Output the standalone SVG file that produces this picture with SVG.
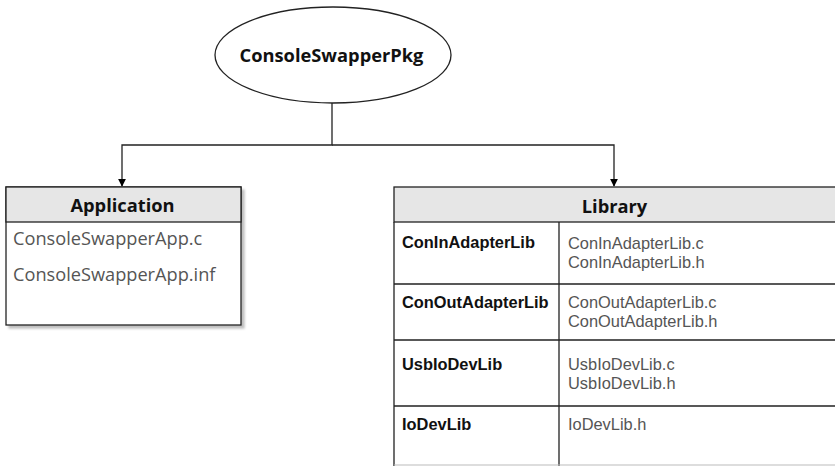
<svg xmlns="http://www.w3.org/2000/svg" width="835" height="466" viewBox="0 0 835 466">
<defs>
<marker id="arr" viewBox="0 0 10 10" refX="9" refY="5" markerWidth="8" markerHeight="8" markerUnits="userSpaceOnUse" orient="auto">
<path d="M0,0 L10,5 L0,10 Z" fill="#000"/>
</marker>
<filter id="sh" x="-5%" y="-5%" width="115%" height="120%">
<feDropShadow dx="3" dy="3" stdDeviation="1" flood-color="#000" flood-opacity="0.25"/>
</filter>
</defs>
<style>
.bold{font-family:"Open Sans","Noto Sans",sans-serif;font-weight:bold;fill:#111;font-size:18.3px}
.cell{font-family:"Open Sans","Noto Sans",sans-serif;font-size:18.2px;fill:#555}
.lb{font-family:"Liberation Sans",Arial,sans-serif;font-weight:bold;font-size:16.4px;fill:#111}
.lf{font-family:"Liberation Sans",Arial,sans-serif;font-size:16.4px;fill:#555}
.ln{stroke:#222;stroke-width:1.3;fill:none}
</style>
<rect width="835" height="466" fill="#fff"/>
<g id="connectors">
<path d="M332,103 V145 H122 V186" class="ln" marker-end="url(#arr)"/>
<path d="M332,145 H614 V186" class="ln" marker-end="url(#arr)"/>
</g>
<g id="root">
<ellipse cx="333" cy="55" rx="118" ry="48" fill="#fff" stroke="#222" stroke-width="1.3"/>
<text x="331.5" y="62" text-anchor="middle" class="bold">ConsoleSwapperPkg</text>
</g>
<g id="application">
<rect x="6" y="187" width="235" height="138" fill="#fff" stroke="#222" stroke-width="1.3" filter="url(#sh)"/>
<rect x="6" y="187" width="235" height="35" fill="#e6e6e6" stroke="#222" stroke-width="1.3"/>
<text x="122.5" y="212" text-anchor="middle" class="bold">Application</text>
<text x="13" y="245" class="cell">ConsoleSwapperApp.c</text>
<text x="13" y="281" class="cell">ConsoleSwapperApp.inf</text>
</g>
<g id="library">
<rect x="394" y="187" width="445" height="35" fill="#e6e6e6" stroke="#222" stroke-width="1.3"/>
<text x="614.5" y="213" text-anchor="middle" class="bold">Library</text>
<path d="M394,222 V466 M559,222 V466" class="ln"/>
<path d="M394,284 H835 M394,340 H835 M394,406 H835" class="ln"/>
<path d="M394,465 H835" stroke="#bbb" stroke-width="1" fill="none"/>
<text x="402" y="248" class="lb">ConInAdapterLib</text>
<text x="568" y="249" class="lf">ConInAdapterLib.c</text>
<text x="568" y="268" class="lf">ConInAdapterLib.h</text>
<text x="402" y="308" class="lb">ConOutAdapterLib</text>
<text x="568" y="308" class="lf">ConOutAdapterLib.c</text>
<text x="568" y="327" class="lf">ConOutAdapterLib.h</text>
<text x="402" y="370" class="lb">UsbIoDevLib</text>
<text x="568" y="370" class="lf">UsbIoDevLib.c</text>
<text x="568" y="389" class="lf">UsbIoDevLib.h</text>
<text x="402" y="430" class="lb">IoDevLib</text>
<text x="568" y="430" class="lf">IoDevLib.h</text>
</g>
</svg>
